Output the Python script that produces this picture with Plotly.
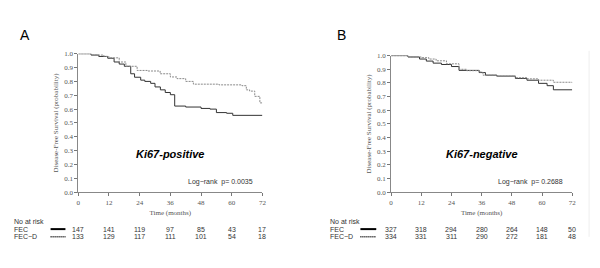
import plotly.graph_objects as go

# ---- data ----
months_ticks = [0, 12, 24, 36, 48, 60, 72]

# Panel A (Ki67-positive)
a_fec_t = [0, 5, 8, 11.5, 14, 16, 18, 20.5, 22, 24.4, 26, 28.3, 30, 32.1, 34, 36, 37.7, 42, 48, 51.5, 54, 58, 60.4, 72]
a_fec_s = [1.0, 0.99, 0.98, 0.967, 0.94, 0.925, 0.909, 0.855, 0.83, 0.809, 0.80, 0.786, 0.76, 0.739, 0.72, 0.704, 0.622, 0.615, 0.605, 0.60, 0.575, 0.57, 0.555, 0.555]
a_fecd_t = [0, 5, 10, 12, 16, 18.6, 23, 27, 32, 36, 38.6, 42, 45, 55, 64, 65.7, 67, 69, 71, 72]
a_fecd_s = [1.0, 0.99, 0.98, 0.97, 0.94, 0.909, 0.879, 0.875, 0.855, 0.832, 0.82, 0.80, 0.78, 0.775, 0.769, 0.739, 0.73, 0.692, 0.645, 0.645]

# Panel B (Ki67-negative)
b_fec_t = [0, 6.7, 11.3, 14, 16.7, 20, 24, 27, 35, 37.5, 42, 49.4, 54, 58.6, 62, 64.5, 72]
b_fec_s = [1.0, 0.99, 0.975, 0.96, 0.945, 0.935, 0.92, 0.892, 0.876, 0.857, 0.85, 0.833, 0.82, 0.797, 0.78, 0.75, 0.75]
b_fecd_t = [0, 7, 12, 15, 17.9, 22, 27, 30, 35, 36.5, 42, 49.4, 54, 58.6, 64.5, 72]
b_fecd_s = [1.0, 0.99, 0.985, 0.975, 0.962, 0.94, 0.90, 0.89, 0.88, 0.857, 0.85, 0.838, 0.83, 0.82, 0.805, 0.80]

a_risk_fec = [147, 141, 119, 97, 85, 43, 17]
a_risk_fecd = [133, 129, 117, 111, 101, 54, 18]
b_risk_fec = [327, 318, 294, 280, 264, 148, 50]
b_risk_fecd = [334, 331, 311, 290, 272, 181, 48]

y_ticks = [0.0, 0.1, 0.2, 0.3, 0.4, 0.5, 0.6, 0.7, 0.8, 0.9, 1.0]

fig = go.Figure()

def add_curve(t, s, xa, ya, color, dash, width):
    fig.add_trace(go.Scatter(x=t, y=s, mode="lines", line=dict(color=color, dash=dash, width=width, shape="hv"),
                             xaxis=xa, yaxis=ya, showlegend=False, hoverinfo="skip"))

add_curve(a_fec_t, a_fec_s, "x", "y", "#333333", "solid", 1)
add_curve(a_fecd_t, a_fecd_s, "x", "y", "#8a8a8a", "2px,1px", 1)
add_curve(b_fec_t, b_fec_s, "x2", "y2", "#333333", "solid", 1)
add_curve(b_fecd_t, b_fecd_s, "x2", "y2", "#8a8a8a", "2px,1px", 1)

# page body has an 8px margin; figure is sized to fit the remaining window
OFF = 8
W, H = 592, 260
tick_font = dict(family="Liberation Serif, Times New Roman, serif", size=7, color="#555555")
title_font = dict(family="Liberation Serif, Times New Roman, serif", size=7, color="#555555")

def px(x): return (x - OFF) / W
def py(y): return 1 - (y - OFF) / H

def xaxis_cfg(domain, anchor):
    return dict(domain=domain, anchor=anchor, range=[0, 72], tickvals=months_ticks, ticks="outside", ticklen=3,
                tickcolor="#777777", showline=True, linecolor="#888888", linewidth=1, showgrid=False,
                zeroline=False, tickfont=tick_font, title=dict(text="Time (months)", font=title_font, standoff=4))

def yaxis_cfg(domain, anchor):
    return dict(domain=domain, anchor=anchor, range=[0, 1.0], tickvals=y_ticks, tickformat=".1f", ticks="outside",
                ticklen=3, tickcolor="#777777", showline=True, linecolor="#888888", linewidth=1, showgrid=False,
                zeroline=False, tickfont=tick_font,
                title=dict(text="Disease-Free Survival (probability)", font=title_font, standoff=4))

fig.update_layout(
    width=W, height=H, margin=dict(l=0, r=0, t=0, b=0), plot_bgcolor="white", paper_bgcolor="white",
    xaxis=xaxis_cfg([px(77), px(263)], "y"),
    yaxis=yaxis_cfg([py(194), py(51)], "x"),
    xaxis2=xaxis_cfg([px(393), px(576)], "y2"),
    yaxis2=yaxis_cfg([py(194), py(53)], "x2"),
)

ann = []
sans_small = dict(family="Liberation Sans, Arial, sans-serif", size=7, color="#333333")

def text_ann(text, x, y, xref="paper", xanchor="left", font=sans_small):
    ann.append(dict(text=text, x=x, y=y, xref=xref, yref="paper", xanchor=xanchor, yanchor="middle",
                    showarrow=False, font=font))

big = dict(family="Liberation Sans, Arial, sans-serif", size=14, color="black")
lab = dict(family="Liberation Sans, Arial, sans-serif", size=11, color="black")

# panel letters
text_ann("A", px(16), py(32), font=big)
text_ann("B", px(336), py(32), font=big)

# subgroup labels
text_ann("<b><i>Ki67-positive</i></b>", 36, py(155), xref="x", xanchor="center", font=lab)
text_ann("<b><i>Ki67-negative</i></b>", 36, py(155), xref="x2", xanchor="center", font=lab)

text_ann("Log\u2212rank  p= 0.0035", px(256), py(183), xanchor="right")
text_ann("Log\u2212rank  p= 0.2688", px(569), py(183), xanchor="right")

# at-risk tables
def risk_table(x0_px, xref, fec, fecd, line_x0, line_x1):
    text_ann("No at risk", px(x0_px), py(224))
    text_ann("FEC", px(x0_px), py(232))
    text_ann("FEC\u2212D", px(x0_px), py(240))
    for t, v1, v2 in zip(months_ticks, fec, fecd):
        text_ann(str(v1), t, py(232), xref=xref, xanchor="center")
        text_ann(str(v2), t, py(240), xref=xref, xanchor="center")
    fig.add_shape(type="line", x0=px(line_x0), x1=px(line_x1), y0=py(232), y1=py(232), xref="paper", yref="paper",
                  line=dict(color="black", width=2))
    fig.add_shape(type="line", x0=px(line_x0), x1=px(line_x1), y0=py(240), y1=py(240), xref="paper", yref="paper",
                  line=dict(color="black", width=1.5, dash="1px,1px"))

risk_table(10, "x", a_risk_fec, a_risk_fecd, 49, 64)
risk_table(329, "x2", b_risk_fec, b_risk_fecd, 362, 378)

# faint frame line on right side
fig.add_shape(type="line", x0=px(593), x1=px(593), y0=py(48), y1=py(240), xref="paper", yref="paper",
              line=dict(color="#eeeeee", width=1))

fig.update_layout(annotations=ann)
fig.write_html("out.html")
